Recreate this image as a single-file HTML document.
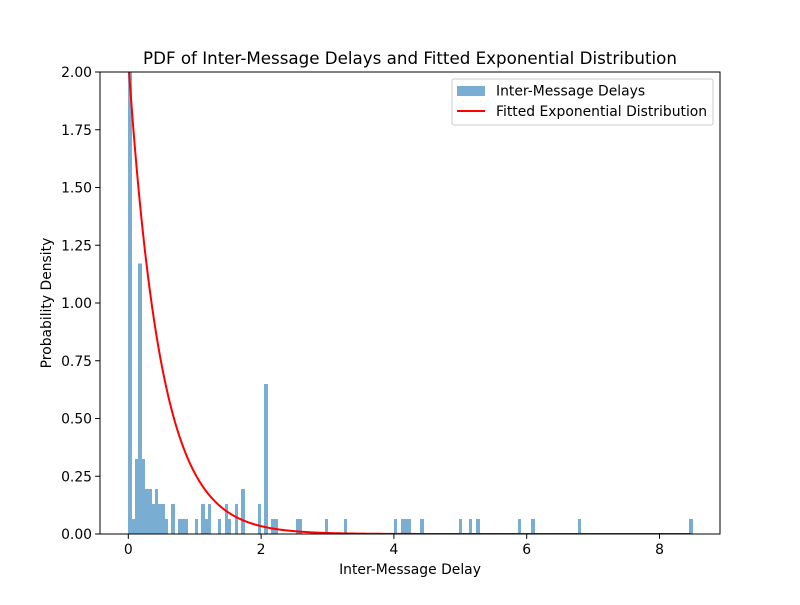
<!DOCTYPE html>
<html><head><meta charset="utf-8"><style>
body{margin:0;background:#fff;}
svg{font-family:"DejaVu Sans","Liberation Sans",sans-serif;}
</style></head><body>
<svg id="chart" width="800" height="600" viewBox="0 0 800 600" xmlns="http://www.w3.org/2000/svg">
<rect width="800" height="600" fill="#fff"/>
<text x="410" y="64" font-size="16.7" text-anchor="middle">PDF of Inter-Message Delays and Fitted Exponential Distribution</text>
<defs><clipPath id="pc"><rect x="100" y="72" width="620" height="462"/></clipPath></defs>
<g id="bars" clip-path="url(#pc)" shape-rendering="crispEdges"></g>
<g id="curve" clip-path="url(#pc)"></g>
<g id="axes"></g>
<rect x="100" y="72" width="620" height="462" fill="none" stroke="#000" stroke-width="1"/>
<text x="410" y="574" font-size="13.9" text-anchor="middle">Inter-Message Delay</text>
<text transform="translate(51,303) rotate(-90)" font-size="13.9" text-anchor="middle">Probability Density</text>
<g>
<rect x="452" y="79" width="261" height="46" rx="2" fill="#fff" fill-opacity="0.8" stroke="#ccc"/>
<rect x="457" y="86" width="28" height="10" fill="#79add2"/>
<text x="496" y="95.5" font-size="13.9">Inter-Message Delays</text>
<line x1="457" y1="111" x2="485" y2="111" stroke="#f00" stroke-width="2"/>
<text x="496" y="116" font-size="13.9">Fitted Exponential Distribution</text>
</g>
</svg>
<script>
const binStarts = [0,0.05,0.1,0.15,0.2,0.25,0.3,0.35,0.4,0.45,0.5,0.55,0.65,0.75,0.8,0.85,1.0,1.1,1.15,1.2,1.35,1.45,1.5,1.6,1.7,1.95,2.05,2.15,2.2,2.52,2.57,2.96,3.25,4.0,4.1,4.15,4.2,4.4,4.98,5.13,5.24,5.87,6.07,6.77,8.45];
const density   = [2.4,0.065,0.325,1.17,0.325,0.195,0.195,0.13,0.195,0.13,0.13,0.065,0.13,0.065,0.065,0.065,0.065,0.13,0.065,0.13,0.065,0.13,0.065,0.13,0.195,0.13,0.65,0.065,0.065,0.065,0.065,0.065,0.065,0.065,0.065,0.065,0.065,0.065,0.065,0.065,0.065,0.065,0.065,0.065,0.065];
const binWidth = 0.05;
const fitLambda = [2.05];
const xTicks = [0,2,4,6,8];
const yTicks = [0,0.25,0.5,0.75,1.0,1.25,1.5,1.75,2.0];
const yTickLabels = ["0.00","0.25","0.50","0.75","1.00","1.25","1.50","1.75","2.00"];

const X0=100,X1=720,Y0=534,Y1=72;
const xs = v => 128.3 + v*66.4;
const ys = v => Y0 - (v/2.0)*(Y0-Y1);
const NS="http://www.w3.org/2000/svg";
const bars=document.getElementById('bars');
binStarts.forEach((b,i)=>{
  const r=document.createElementNS(NS,'rect');
  const x0=Math.round(xs(b)), x1=Math.round(xs(b+binWidth));
  r.setAttribute('x',x0); r.setAttribute('width',Math.max(1,x1-x0));
  r.setAttribute('y',ys(density[i])); r.setAttribute('height',Y0-ys(density[i]));
  r.setAttribute('fill','#79add2');
  
  
  bars.appendChild(r);
});
const lam=fitLambda[0];
let d='';
for(let i=0;i<=400;i++){const x=8.47*i/400;const y=lam*Math.exp(-lam*x);d+=(i?'L':'M')+xs(x).toFixed(2)+','+ys(y).toFixed(2);}
const p=document.createElementNS(NS,'path');
p.setAttribute('d',d);p.setAttribute('fill','none');p.setAttribute('stroke','#f00');p.setAttribute('stroke-width','2');


document.getElementById('curve').appendChild(p);
const axes=document.getElementById('axes');
xTicks.forEach(t=>{
  const l=document.createElementNS(NS,'line');
  l.setAttribute('x1',xs(t));l.setAttribute('x2',xs(t));l.setAttribute('y1',Y0);l.setAttribute('y2',Y0+4.9);l.setAttribute('stroke','#000');
  
  
  axes.appendChild(l);
  const tx=document.createElementNS(NS,'text');
  tx.setAttribute('x',xs(t));tx.setAttribute('y',Y0+20);tx.setAttribute('font-size','13.9');tx.setAttribute('text-anchor','middle');tx.textContent=t;
  
  
  axes.appendChild(tx);
});
yTicks.forEach((t,i)=>{
  const l=document.createElementNS(NS,'line');
  l.setAttribute('x1',X0-4.9);l.setAttribute('x2',X0);l.setAttribute('y1',ys(t));l.setAttribute('y2',ys(t));l.setAttribute('stroke','#000');
  
  
  axes.appendChild(l);
  const tx=document.createElementNS(NS,'text');
  tx.setAttribute('x',X0-8);tx.setAttribute('y',ys(t)+5);tx.setAttribute('font-size','13.9');tx.setAttribute('text-anchor','end');tx.textContent=yTickLabels[i];
  
  
  axes.appendChild(tx);
});
</script>
</body></html>
